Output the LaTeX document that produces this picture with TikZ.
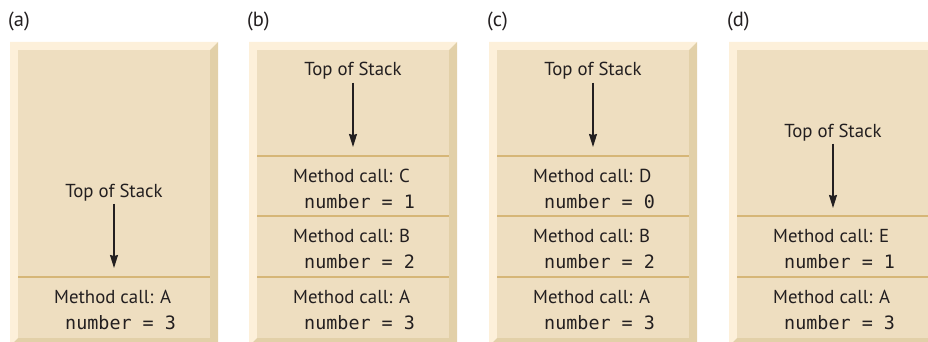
\documentclass[tikz,border=0pt]{standalone}
\usepackage{fontspec}
\setmainfont{PT Sans}
\newfontfamily\codefont{DejaVu Sans Mono}
\usetikzlibrary{arrows.meta}

\definecolor{facetan}{HTML}{EEDEC0}
\definecolor{edgelight}{HTML}{FDF0DA}
\definecolor{edgedark}{HTML}{E2D0A8}
\definecolor{sepgold}{HTML}{D6B677}
\definecolor{inkgray}{HTML}{231F20}

\tikzset{
    face/.style={fill=facetan},
    lightedge/.style={fill=edgelight},
    darkedge/.style={fill=edgedark},
    divider/.style={draw=sepgold, line width=2pt},
    lbl/.style={anchor=base west, inner sep=0pt, text=inkgray, font=\fontsize{20.5}{22}\selectfont},
    tos/.style={anchor=base, inner sep=3pt, text=inkgray, font=\fontsize{18.8}{20}\selectfont},
    call/.style={anchor=base west, inner sep=0pt, text=inkgray, font=\fontsize{18.8}{20}\selectfont},
    num/.style={anchor=base west, inner sep=0pt, text=inkgray, font=\codefont\fontsize{18.4}{20}\selectfont},
    down/.style={-{Stealth[length=13pt,width=8pt,inset=1pt]}, line width=1.2pt, draw=inkgray, fill=inkgray},
}

% bevelled frame of one stack, in panel coordinates
\newcommand{\stackframe}{%
    \fill[lightedge] (0,42) -- (208,42) -- (200,50) -- (8,50) -- (8,338) -- (0,346) -- cycle;
    \fill[darkedge] (208,42) -- (208,346) -- (0,346) -- (8,338) -- (200,338) -- (200,50) -- cycle;
    \fill[face] (8,50) rectangle (200,338);
}

\begin{document}
\begin{tikzpicture}[x=1pt, y=-1pt]
    \useasboundingbox (0,0) rectangle (928,342);

    % (a) only A on the stack
    \begin{scope}[shift={(10,0)}]
        \stackframe
        \node[lbl] (labA) at (-2,27) {(a)};
        \draw[divider] (8,277) -- (200,277);
        \node[tos] (tosA) at (104,197) {Top of Stack};
        \coordinate (tipA) at (104,268);
        \draw[down] (tosA) -- (tipA);
        \node[call] (callA1) at (44,303) {Method call: A};
        \node[num] (numA1) at (55,329) {number = 3};
    \end{scope}

    % (b) C on top of B and A
    \begin{scope}[shift={(249,0)}]
        \stackframe
        \node[lbl] (labB) at (-2,27) {(b)};
        \draw[divider] (8,156) -- (200,156);
        \draw[divider] (8,216) -- (200,216);
        \draw[divider] (8,277) -- (200,277);
        \node[tos] (tosB) at (104,76) {Top of Stack};
        \coordinate (tipB) at (104,147);
        \draw[down] (tosB) -- (tipB);
        \node[call] (callB1) at (44,182) {Method call: C};
        \node[num] (numB1) at (55,208) {number = 1};
        \node[call] (callB2) at (44,242) {Method call: B};
        \node[num] (numB2) at (55,268) {number = 2};
        \node[call] (callB3) at (44,303) {Method call: A};
        \node[num] (numB3) at (55,329) {number = 3};
    \end{scope}

    % (c) D on top of B and A
    \begin{scope}[shift={(489,0)}]
        \stackframe
        \node[lbl] (labC) at (-2,27) {(c)};
        \draw[divider] (8,156) -- (200,156);
        \draw[divider] (8,216) -- (200,216);
        \draw[divider] (8,277) -- (200,277);
        \node[tos] (tosC) at (104,76) {Top of Stack};
        \coordinate (tipC) at (104,147);
        \draw[down] (tosC) -- (tipC);
        \node[call] (callC1) at (44,182) {Method call: D};
        \node[num] (numC1) at (55,208) {number = 0};
        \node[call] (callC2) at (44,242) {Method call: B};
        \node[num] (numC2) at (55,268) {number = 2};
        \node[call] (callC3) at (44,303) {Method call: A};
        \node[num] (numC3) at (55,329) {number = 3};
    \end{scope}

    % (d) E on top of A
    \begin{scope}[shift={(729,0)}]
        \stackframe
        \node[lbl] (labD) at (-2,27) {(d)};
        \draw[divider] (8,216) -- (200,216);
        \draw[divider] (8,277) -- (200,277);
        \node[tos] (tosD) at (104,137) {Top of Stack};
        \coordinate (tipD) at (104,208);
        \draw[down] (tosD) -- (tipD);
        \node[call] (callD1) at (44,242) {Method call: E};
        \node[num] (numD1) at (55,268) {number = 1};
        \node[call] (callD2) at (44,303) {Method call: A};
        \node[num] (numD2) at (55,329) {number = 3};
    \end{scope}
\end{tikzpicture}
\end{document}
